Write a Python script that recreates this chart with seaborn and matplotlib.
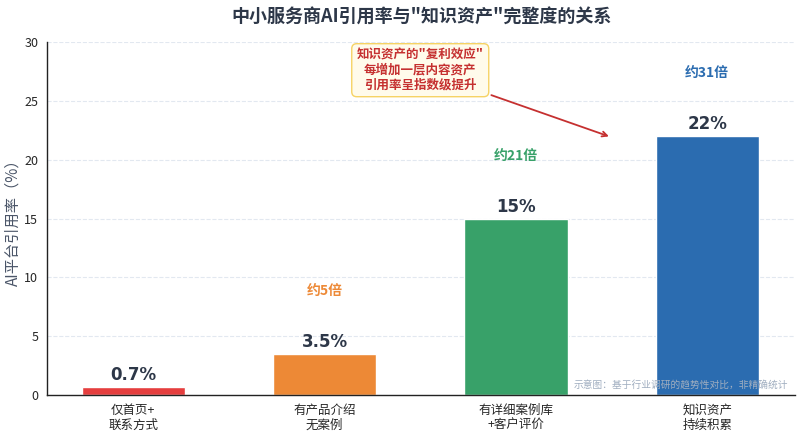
import matplotlib
matplotlib.use("Agg")
import matplotlib.pyplot as plt
import seaborn as sns
import pandas as pd

categories = ["仅首页+\n联系方式", "有产品介绍\n无案例", "有详细案例库\n+客户评价", "知识资产\n持续积累"]
rates = [0.7, 3.5, 15, 22]
value_labels = ["0.7%", "3.5%", "15%", "22%"]
colors = ["#e53e3e", "#ed8936", "#38a169", "#2b6cb0"]
multipliers = ["", "约5倍", "约21倍", "约31倍"]
mult_y = [0, 8.85, 20.35, 27.35]

sns.set_style("white")
plt.rcParams['font.family'] = ['Noto Sans CJK SC', 'DejaVu Sans']

df = pd.DataFrame({"cat": categories, "rate": rates})

fig = plt.figure(figsize=(8, 4.37), dpi=100)
ax = fig.add_axes([0.059, 0.096, 0.935, 0.808])
sns.barplot(data=df, x="cat", y="rate", hue="cat", palette=colors, width=0.54,
            legend=False, ax=ax, saturation=1)

ax.set_ylim(0, 30)
ax.set_xlim(-0.45, 3.46)
ax.set_yticks([0, 5, 10, 15, 20, 25, 30])
ax.yaxis.grid(True, linestyle="--", color="#e2e8f0", linewidth=0.8)
ax.set_axisbelow(True)
for s in ["top", "right"]:
    ax.spines[s].set_visible(False)
for s in ["left", "bottom"]:
    ax.spines[s].set_color("#222222")
    ax.spines[s].set_linewidth(1.0)
ax.tick_params(axis="both", labelsize=9, length=3, color="#222222")
ax.set_xlabel("")
ax.set_ylabel("AI平台引用率（%）", fontsize=11, color="#4a5568", labelpad=2)

for i, (v, lab) in enumerate(zip(rates, value_labels)):
    ax.text(i, v + 0.25, lab, ha="center", va="bottom", fontsize=12,
            fontweight="bold", color="#2d3748", family="DejaVu Sans")

for i, (m, y) in enumerate(zip(multipliers, mult_y)):
    if m:
        ax.text(i, y, m, ha="center", va="center", fontsize=10,
                fontweight="bold", color=colors[i])

ax.annotate("知识资产的\"复利效应\"\n每增加一层内容资产\n引用率呈指数级提升",
            xy=(2.5, 21.9), xytext=(1.5, 27.6), ha="center", va="center",
            fontsize=9, fontweight="bold", color="#c53030",
            bbox=dict(boxstyle="round,pad=0.4", fc="#fffbeb", ec="#f6d365", lw=1),
            arrowprops=dict(arrowstyle="->", color="#c53030", lw=1.3))

ax.text(0.99, 0.03, "示意图：基于行业调研的趋势性对比，非精确统计",
        transform=ax.transAxes, ha="right", va="center", fontsize=7, color="#a0aec0")

ax.set_title("中小服务商AI引用率与\"知识资产\"完整度的关系", fontsize=13,
             fontweight="bold", color="#2d3748", pad=14)

fig.savefig("out.png", dpi=100)
